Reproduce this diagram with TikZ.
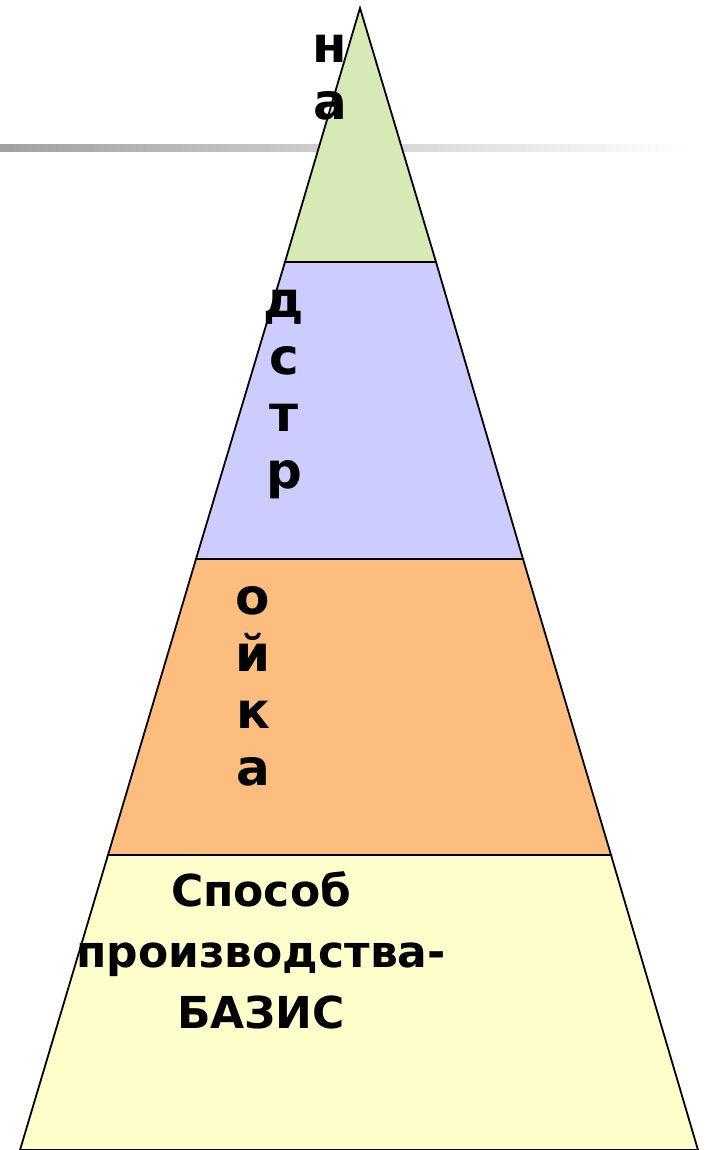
\documentclass[tikz,border=0pt]{standalone}
\usepackage{fontspec}
\setmainfont{DejaVu Sans}
\usetikzlibrary{calc}
\definecolor{TopLayer}{RGB}{215,233,181}
\definecolor{UpperLayer}{RGB}{204,204,255}
\definecolor{LowerLayer}{RGB}{253,189,127}
\definecolor{BaseLayer}{RGB}{255,255,204}

\begin{document}
\begin{tikzpicture}[x=1pt, y=-1pt,
    layer/.style={draw=black, line width=1.8pt},
    letter/.style={font=\bfseries\fontsize{50}{57}\selectfont, anchor=base, inner sep=0pt},
    basis/.style={font=\bfseries\fontsize{44}{61}\selectfont, anchor=base, inner sep=0pt}]
    \useasboundingbox (0,0) rectangle (706,1150);
    % fading rule behind the top
    \shade[left color=black!37, right color=white] (0,145) rectangle (690,152);

    % corners of the pyramid
    \coordinate (apex) at (360,8);
    \coordinate (l1) at (285,262);  \coordinate (r1) at (436,262);
    \coordinate (l2) at (196,559);  \coordinate (r2) at (523,559);
    \coordinate (l3) at (108,855);  \coordinate (r3) at (611,855);
    \coordinate (l4) at (20,1150);  \coordinate (r4) at (698,1150);

    % layers
    \draw[layer, fill=TopLayer] (apex) -- (r1) -- (l1) -- cycle;
    \draw[layer, fill=UpperLayer] (l1) -- (r1) -- (r2) -- (l2) -- cycle;
    \draw[layer, fill=LowerLayer] (l2) -- (r2) -- (r3) -- (l3) -- cycle;
    \draw[layer, fill=BaseLayer] (l3) -- (r3) -- (r4) -- (l4) -- cycle;

    % vertical letters
    \foreach \ch [count=\i] in {н,а}
        \node[letter] (na\i) at (330,6+57*\i) {\ch};
    \foreach \ch [count=\i] in {д,с,т,р}
        \node[letter] (dstr\i) at (284,260+57*\i) {\ch};
    \foreach \ch [count=\i] in {о,й,к,а}
        \node[letter] (oika\i) at (253,557+57*\i) {\ch};

    % base text
    \foreach \w/\yy [count=\i] in {Способ/906, производства-/967, БАЗИС/1028}
        \node[basis] (basis\i) at (261,\yy) {\w};
\end{tikzpicture}
\end{document}
